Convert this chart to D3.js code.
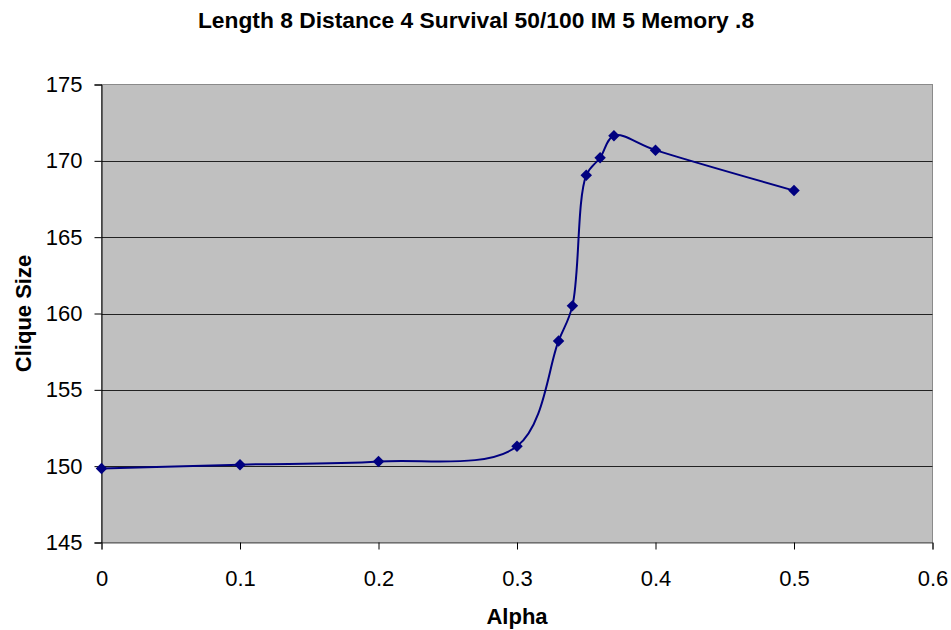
<!DOCTYPE html>
<html>
<head>
<meta charset="utf-8">
<script src="https://cdn.jsdelivr.net/npm/d3@7"></script>
<style>
  body { margin: 0; background: #fff; }
  svg { display: block; font-family: "Liberation Sans", Arial, sans-serif; }
</style>
</head>
<body>
<svg id="chart" width="951" height="630"></svg>
<script>
// Clique size as a function of alpha
const alphaValues = [0, 0.1, 0.2, 0.3, 0.33, 0.34, 0.35, 0.36, 0.37, 0.4, 0.5];
const cliqueSizes = [149.85, 150.1, 150.3, 151.3, 158.2, 160.5, 169.05, 170.2, 171.65, 170.7, 168.05];
const xTicks = [0, 0.1, 0.2, 0.3, 0.4, 0.5, 0.6];
const yTicks = [145, 150, 155, 160, 165, 170, 175];

const titleText = "Length 8 Distance 4 Survival 50/100 IM 5 Memory .8";
const xTitle = "Alpha";
const yTitle = "Clique Size";

const svg = d3.select("#chart");
const plotLeft = 101.5, plotRight = 932.5, plotTop = 84.5, plotBottom = 542.5;

const x = d3.scaleLinear().domain([0, 0.6]).range([plotLeft, plotRight]);
const y = d3.scaleLinear().domain([145, 175]).range([plotBottom, plotTop]);

// plot area
svg.append("rect")
  .attr("x", plotLeft).attr("y", plotTop)
  .attr("width", plotRight - plotLeft).attr("height", plotBottom - plotTop)
  .attr("fill", "#c0c0c0")
  .attr("stroke", "#8a8a8a").attr("stroke-width", 1);

// horizontal gridlines
svg.append("g").selectAll("line")
  .data(yTicks.filter(d => d > 145 && d < 175))
  .join("line")
  .attr("x1", plotLeft).attr("x2", plotRight)
  .attr("y1", d => Math.round(y(d)) + 0.5).attr("y2", d => Math.round(y(d)) + 0.5)
  .attr("stroke", "#222").attr("stroke-width", 1);

// axes
const yAxis = d3.axisLeft(y).tickValues(yTicks).tickSize(7).tickPadding(12).tickFormat(d3.format("d"));
const xAxis = d3.axisBottom(x).tickValues(xTicks).tickSize(7).tickPadding(21).tickFormat(d => d === 0 ? "0" : String(d));

const gy = svg.append("g").attr("transform", `translate(${plotLeft},0)`).call(yAxis);
const gx = svg.append("g").attr("transform", `translate(0,${plotBottom})`).call(xAxis);
[gx, gy].forEach(g => {
  g.select(".domain").attr("stroke", "#000").attr("stroke-width", 1);
  g.selectAll(".tick line").attr("stroke", "#000");
  g.selectAll(".tick text").attr("fill", "#000")
    .style("font-size", "22px").style("font-family", "'Liberation Sans', Arial, sans-serif");
});
gx.select(".domain").attr("stroke", "#555");

// smoothed series line
const line = d3.line()
  .x(d => x(d[0])).y(d => y(d[1]))
  .curve(d3.curveCatmullRom.alpha(0.5));
const pts = alphaValues.map((a, i) => [a, cliqueSizes[i]]);

svg.append("path")
  .datum(pts)
  .attr("d", line)
  .attr("fill", "none")
  .attr("stroke", "#000080")
  .attr("stroke-width", 2);

// diamond markers
const diamond = d3.symbol().type(d3.symbolDiamond2).size(84);
svg.append("g").selectAll("path")
  .data(pts)
  .join("path")
  .attr("transform", d => `translate(${x(d[0])},${y(d[1])})`)
  .attr("d", diamond)
  .attr("fill", "#000080");

// titles
svg.append("text")
  .attr("x", 476).attr("y", 28)
  .attr("text-anchor", "middle")
  .style("font-size", "22.8px").style("font-weight", "bold")
  .text(titleText);

svg.append("text")
  .attr("x", 517).attr("y", 624)
  .attr("text-anchor", "middle")
  .style("font-size", "22px").style("font-weight", "bold")
  .text(xTitle);

svg.append("text")
  .attr("transform", `translate(31,${(plotTop + plotBottom) / 2}) rotate(-90)`)
  .attr("text-anchor", "middle")
  .style("font-size", "22px").style("font-weight", "bold")
  .text(yTitle);
</script>
</body>
</html>
